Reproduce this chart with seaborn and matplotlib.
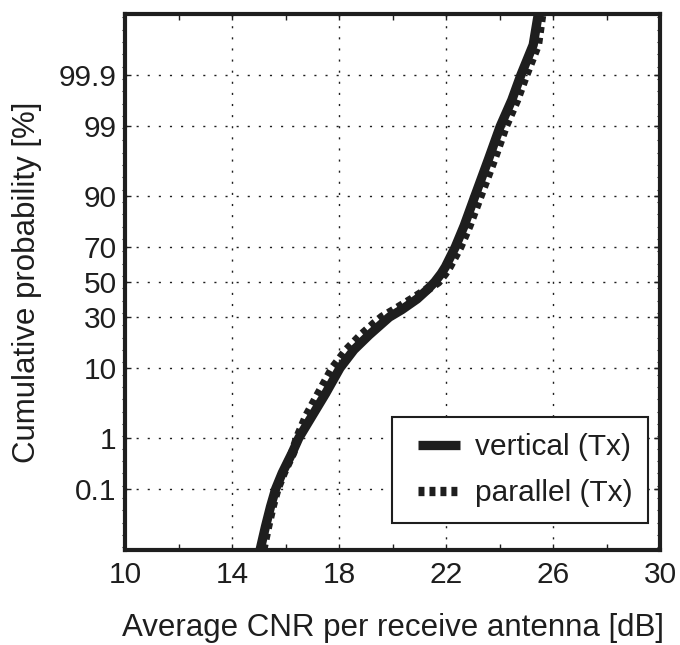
import matplotlib
matplotlib.use("Agg")
import matplotlib.pyplot as plt
from matplotlib.ticker import FixedLocator, MultipleLocator
from matplotlib.lines import Line2D
from matplotlib.legend_handler import HandlerLine2D
import seaborn as sns
import pandas as pd
import numpy as np
from statistics import NormalDist

# ---------------- data ----------------
cum_prob_pct = [0.0032, 0.013, 0.04, 0.1, 0.22, 0.54, 1, 2.3, 4.8, 10, 15.6, 21.5,
                27, 30, 34, 40, 45.4, 50, 55, 59, 70, 80, 90, 96.6, 99, 99.67,
                99.9, 99.98, 99.9968]
cnr_vertical = [15.05, 15.25, 15.44, 15.63, 15.88, 16.25, 16.5, 17.0, 17.5, 18.04, 18.56, 19.13,
                19.63, 19.88, 20.35, 20.92, 21.3, 21.58, 21.82, 21.98, 22.35, 22.68, 23.08, 23.58,
                24.03, 24.46, 24.8, 25.26, 25.45]
cnr_parallel = [15.15, 15.33, 15.5, 15.68, 15.92, 16.27, 16.45, 16.8, 17.25, 17.78, 18.3, 18.85,
                19.35, 19.62, 20.1, 20.75, 21.28, 21.7, 21.95, 22.12, 22.52, 22.86, 23.27, 23.78,
                24.22, 24.64, 24.98, 25.42, 25.58]
series_labels = ["vertical (Tx)", "parallel (Tx)"]

ytick_pct = [0.1, 1, 10, 30, 50, 70, 90, 99, 99.9]
ytick_labels = ["0.1", "1", "10", "30", "50", "70", "90", "99", "99.9"]
xticks = [10, 14, 18, 22, 26, 30]

nd = NormalDist()
def probit(pcts):
    return [nd.inv_cdf(p / 100.0) for p in pcts]

df = pd.concat([
    pd.DataFrame({"cnr": cnr_vertical, "z": probit(cum_prob_pct), "series": series_labels[0]}),
    pd.DataFrame({"cnr": cnr_parallel, "z": probit(cum_prob_pct), "series": series_labels[1]}),
])

# ---------------- style ----------------
sns.set_style("ticks")
plt.rcParams["font.family"] = ["Liberation Sans", "DejaVu Sans"]
plt.rcParams["lines.scale_dashes"] = False
ink = "#1e1e1e"
plt.rcParams["text.color"] = ink
plt.rcParams["axes.labelcolor"] = ink
plt.rcParams["xtick.color"] = ink
plt.rcParams["ytick.color"] = ink

fig = plt.figure(figsize=(6.8, 6.45), dpi=100)
ax = fig.add_axes([125 / 680, 1 - 550 / 645, 535 / 680, 536 / 645])

lw = 6.7
sns.lineplot(data=df[df.series == series_labels[0]], x="cnr", y="z", sort=False,
             estimator=None, color=ink, lw=lw, ax=ax, legend=False,
             solid_capstyle="butt", solid_joinstyle="round")
sns.lineplot(data=df[df.series == series_labels[1]], x="cnr", y="z", sort=False,
             estimator=None, color=ink, lw=lw, ax=ax, legend=False,
             linestyle=(0, (4.3, 3.6)), dash_capstyle="butt", dash_joinstyle="round")

ax.set_xlim(10, 30)
ax.set_ylim(-4, 4)

# ticks
ax.set_xticks(xticks)
ax.set_xticklabels([str(t) for t in xticks])
ax.xaxis.set_minor_locator(MultipleLocator(2))
zt = probit(ytick_pct)
ax.set_yticks(zt)
ax.set_yticklabels(ytick_labels)
minor_z = np.arange(-3.96, 4.0, 0.184)
ax.yaxis.set_minor_locator(FixedLocator(minor_z))

ax.tick_params(axis="x", which="both", direction="in", top=True, bottom=True,
               labelsize=21.5, pad=8, length=4, width=1)
ax.tick_params(axis="y", which="major", direction="in", left=True, right=True,
               length=4, width=1, labelsize=21.5, pad=6)
ax.tick_params(axis="y", which="minor", direction="out", left=True, right=False,
               length=2, width=0.8)

sec = ax.secondary_yaxis("right")
sec.set_yticks(zt)
sec.set_yticklabels([])
sec.yaxis.set_minor_locator(FixedLocator(minor_z))
sec.tick_params(which="minor", direction="in", length=2, width=0.8)
sec.tick_params(which="major", direction="in", length=4, width=1)
sec.spines["right"].set_visible(False)

# grid
ax.grid(True, which="major", color=ink, lw=1.0, linestyle=(0, (1.5, 6.5)))

for s in ax.spines.values():
    s.set_linewidth(3)
    s.set_color(ink)

ax.set_xlabel("Average CNR per receive antenna [dB]", fontsize=22.5, labelpad=17)
ax.set_ylabel("Cumulative probability [%]", fontsize=22.5, labelpad=12)

leg = ax.legend(handles=ax.lines[:2], labels=series_labels, loc="lower right",
                bbox_to_anchor=((648 - 125) / 535, (550 - 523) / 536),
                borderaxespad=0, fontsize=21.5, frameon=True, fancybox=False,
                handlelength=1.75, handletextpad=0.5, labelspacing=0.62,
                borderpad=0.52, handler_map={Line2D: HandlerLine2D(xpad=0.35)})
leg.get_frame().set_edgecolor(ink)
leg.get_frame().set_linewidth(1.5)
leg.get_frame().set_alpha(1)
for t in leg.get_texts():
    t.set_color(ink)

fig.savefig("out.png", dpi=100)
